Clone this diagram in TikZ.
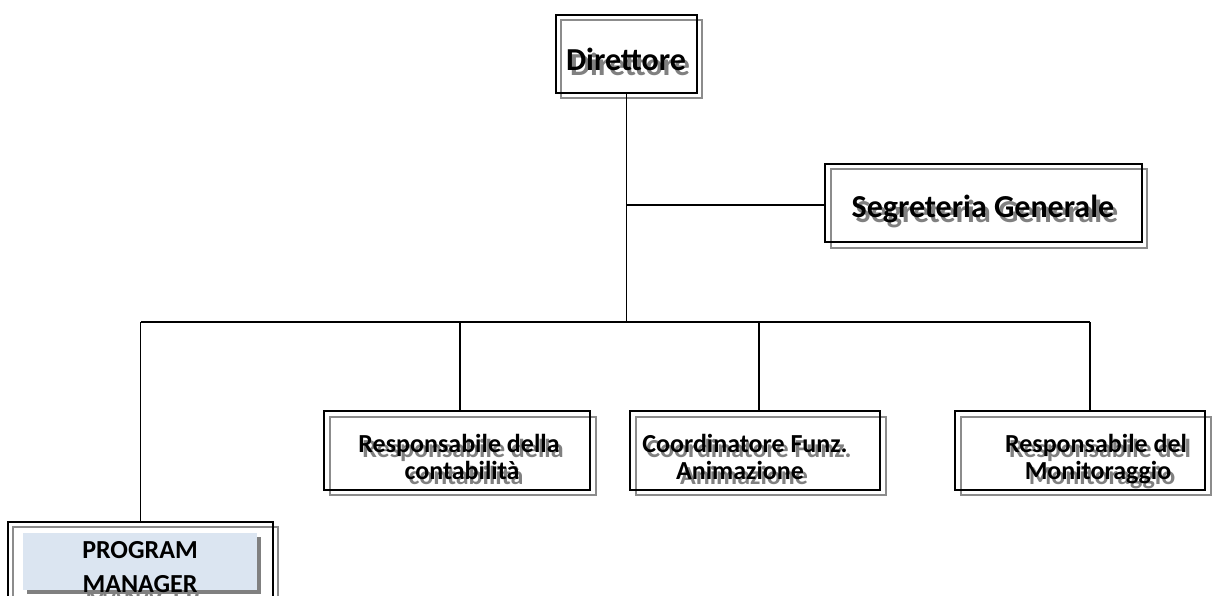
\documentclass[tikz,border=0pt]{standalone}
\usepackage{fontspec}
\setmainfont{Carlito}
\definecolor{pmblue}{HTML}{DBE5F1}
\newcommand\ShLabel[5]{% style, name, x, y(baseline), text
  \node[#1,shade] (#2s) at (#3+4,#4+5) {#5};
  \node[#1] (#2) at (#3,#4) {#5};
}
\begin{document}
\begin{tikzpicture}[x=1pt,y=-1pt,
  blackbox/.style={draw=black,line width=1.6pt,inner sep=0pt},
  graybox/.style={draw=black!45,line width=1.6pt,inner sep=0pt},
  link/.style={draw=black,line width=1.8pt},
  big/.style={font=\fontsize{32}{36}\selectfont\bfseries,inner sep=0pt,anchor=base},
  small/.style={font=\fontsize{26}{30}\selectfont\bfseries,inner sep=0pt,anchor=base},
  shade/.style={text=black!50},
]
\useasboundingbox (0,0) rectangle (1227,596);

% Direttore
\node[graybox,minimum width=141pt,minimum height=78pt] (dirG) at (631.5,59) {};
\node[blackbox,minimum width=141pt,minimum height=78pt] (dir) at (626.5,54) {};
\ShLabel{big}{dirT}{626}{71}{Direttore}

% Segreteria Generale
\node[graybox,minimum width=316pt,minimum height=79pt] (segG) at (989,208.5) {};
\node[blackbox,minimum width=317pt,minimum height=78pt] (seg) at (983.5,203) {};
\ShLabel{big}{segT}{983}{218}{Segreteria Generale}

% Responsabile della contabilita
\node[graybox,minimum width=266pt,minimum height=78pt] (conG) at (463,456) {};
\node[blackbox,minimum width=266pt,minimum height=79pt] (con) at (457,450.5) {};
\ShLabel{small}{conT1}{459}{452}{Responsabile della}
\ShLabel{small}{conT2}{462}{479}{contabilità}

% Coordinatore Funz. Animazione
\node[graybox,minimum width=250pt,minimum height=78pt] (cooG) at (761,456) {};
\node[blackbox,minimum width=250pt,minimum height=79pt] (coo) at (755,450.5) {};
\ShLabel{small}{cooT1}{745}{452}{Coordinatore Funz.}
\ShLabel{small}{cooT2}{740}{479}{Animazione}

% Responsabile del Monitoraggio
\node[graybox,minimum width=250pt,minimum height=78pt] (monG) at (1086,456) {};
\node[blackbox,minimum width=250pt,minimum height=79pt] (mon) at (1080,450.5) {};
\ShLabel{small}{monT1}{1096}{452}{Responsabile del}
\ShLabel{small}{monT2}{1098}{479}{Monitoraggio}

% Program manager
\node[graybox,minimum width=265pt,minimum height=83pt] (pmG) at (145.5,568.5) {};
\node[blackbox,minimum width=265pt,minimum height=83pt] (pm) at (140.5,563.5) {};
\node[small,text=black!50] (pmHid) at (143,606) {MANAGER};
\node[fill=black!50,minimum width=234pt,minimum height=57pt,inner sep=0pt] (pmSh) at (144,565.5) {};
\node[fill=pmblue,minimum width=234pt,minimum height=57pt,inner sep=0pt] (pmFill) at (140,561.5) {};
\node[small] (pmT1) at (140,558) {PROGRAM};
\node[small] (pmT2) at (140,592) {MANAGER};

% connectors
\coordinate (bus) at (0,322);
\draw[link] (dir.south) -- (dir.south |- bus);
\draw[link] (dir.south |- seg.west) ++(0,2) -- ([yshift=-2pt]seg.west);
\draw[link] (pm.north |- bus) -- (1090,322) coordinate (busR);
\draw[link] (pm.north |- bus) -- (pm.north);
\draw[link] (460,322) coordinate (j1) -- (j1 |- con.north);
\draw[link] (759,322) coordinate (j2) -- (j2 |- coo.north);
\draw[link] (busR) -- (busR |- mon.north);
\end{tikzpicture}
\end{document}
